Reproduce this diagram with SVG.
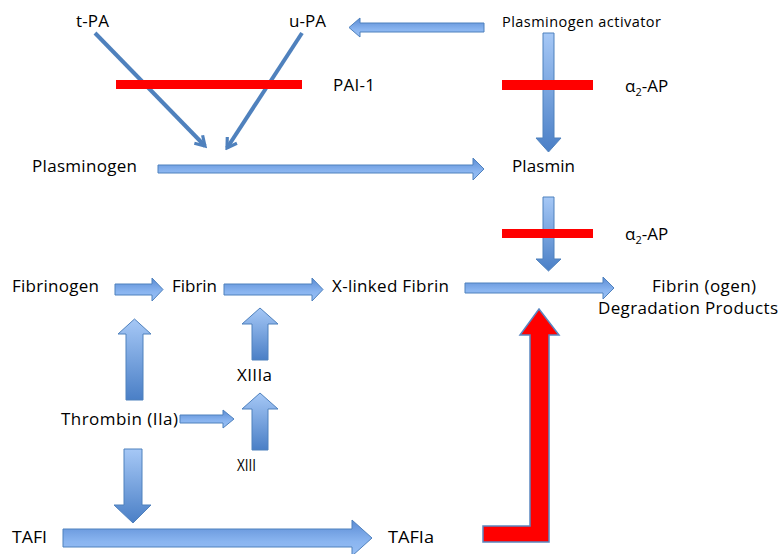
<svg xmlns="http://www.w3.org/2000/svg" width="781" height="554" viewBox="0 0 781 554">
<defs>
<linearGradient id="gv" x1="0" y1="0" x2="0" y2="1">
<stop offset="0" stop-color="#a6c8f6"/>
<stop offset="1" stop-color="#4a7fc6"/>
</linearGradient>
<linearGradient id="gh" x1="0" y1="0" x2="0" y2="1">
<stop offset="0" stop-color="#5a8bd4"/>
<stop offset="0.6" stop-color="#8ab5f0"/>
<stop offset="1" stop-color="#98bff4"/>
</linearGradient>
<marker id="vhead" viewBox="0 0 10 10" refX="8" refY="5" markerWidth="3.6" markerHeight="3.6" orient="auto" markerUnits="strokeWidth">
<path d="M1.5,1 L8,5 L1.5,9" fill="none" stroke="#4f81bd" stroke-width="2.2" stroke-linecap="butt" stroke-linejoin="miter"/>
</marker>
</defs>
<style>
text{font-family:"Open Sans","Liberation Sans",sans-serif;font-size:17px;fill:#000}
.sm{font-size:14.5px}
.cond{font-size:16px}
.av{fill:url(#gv);stroke:#4f81bd;stroke-width:1}
.ah{fill:url(#gh);stroke:#4f81bd;stroke-width:1}
.red{fill:#ff0000}
.redarrow{fill:#ff0000;stroke:#5a86c0;stroke-width:1.5}
.ln{stroke:#4f81bd;stroke-width:4;fill:none}
</style>

<g id="connectors">
<line class="ln" x1="95" y1="33" x2="205" y2="146" marker-end="url(#vhead)"/>
<line class="ln" x1="302" y1="33" x2="227" y2="148" marker-end="url(#vhead)"/>
<polygon class="ah" points="484,23 360,23 360,18 349,27.5 360,37 360,32 484,32"/>
<polygon class="av" points="543,33 554,33 554,138 561,138 548.5,152 536,138 543,138"/>
<polygon class="ah" points="158,165 473,165 473,158 484,169 473,180 473,173 158,173"/>
<polygon class="av" points="543,197 554,197 554,259 561,259 548.5,271 536,259 543,259"/>
<polygon class="ah" points="115,284 152,284 152,278 163,289.5 152,301 152,295 115,295"/>
<polygon class="ah" points="224,284 312,284 312,278 323,289.5 312,301 312,295 224,295"/>
<polygon class="ah" points="465,283 603,283 603,277 614,288 603,299 603,293 465,293"/>
<polygon class="av" points="126,400 143,400 143,334 151,334 134.5,319 118,334 126,334"/>
<polygon class="av" points="252,360 268,360 268,324 278,324 260,308 242,324 252,324"/>
<polygon class="ah" points="180,415 223,415 223,410 234,419 223,428 223,423 180,423"/>
<polygon class="av" points="252,450 268,450 268,409 278,409 260,393 242,409 252,409"/>
<polygon class="av" points="124,449 142,449 142,505 151,505 133,523 114,505 124,505"/>
<polygon class="ah" points="63,529 352,529 352,520 372,538 352,556 352,547 63,547"/>
<polygon class="redarrow" points="539,309 559,335 549,335 549,542 483,542 483,526 530,526 530,335 520,335"/>
<rect class="red" x="116" y="80" width="186" height="9"/>
<rect class="red" x="502" y="80" width="91" height="10"/>
<rect class="red" x="502" y="229" width="91" height="9"/>
</g>

<g id="node-tpa"><text x="76" y="27" textLength="33">t-PA</text></g>
<g id="node-upa"><text x="289" y="27" textLength="37">u-PA</text></g>
<g id="node-pa"><text class="sm" x="502" y="27" textLength="159">Plasminogen activator</text></g>
<g id="node-pai1"><text x="333" y="91" textLength="42">PAI-1</text></g>
<g id="node-a2ap1"><text x="625" y="92">α<tspan font-size="11" dy="4">2</tspan><tspan dy="-4">-AP</tspan></text></g>
<g id="node-plasminogen"><text x="32" y="172" textLength="105">Plasminogen</text></g>
<g id="node-plasmin"><text x="512" y="172" textLength="63">Plasmin</text></g>
<g id="node-a2ap2"><text x="625" y="240">α<tspan font-size="11" dy="4">2</tspan><tspan dy="-4">-AP</tspan></text></g>
<g id="node-fibrinogen"><text x="12" y="292" textLength="87">Fibrinogen</text></g>
<g id="node-fibrin"><text x="172" y="292" textLength="45">Fibrin</text></g>
<g id="node-xfibrin"><text x="332" y="292" textLength="117">X-linked Fibrin</text></g>
<g id="node-fdp"><text x="652" y="292" textLength="104">Fibrin (ogen)</text><text x="598" y="314" textLength="180">Degradation Products</text></g>
<g id="node-xiiia"><text x="237" y="381" textLength="35">XIIIa</text></g>
<g id="node-thrombin"><text x="61" y="425" textLength="117">Thrombin (IIa)</text></g>
<g id="node-xiii"><text class="cond" x="237" y="471" textLength="19" lengthAdjust="spacingAndGlyphs">XIII</text></g>
<g id="node-tafi"><text class="cond" x="12" y="543" textLength="35" lengthAdjust="spacingAndGlyphs">TAFI</text></g>
<g id="node-tafia"><text class="cond" x="388" y="543" textLength="46" lengthAdjust="spacingAndGlyphs">TAFIa</text></g>
</svg>
